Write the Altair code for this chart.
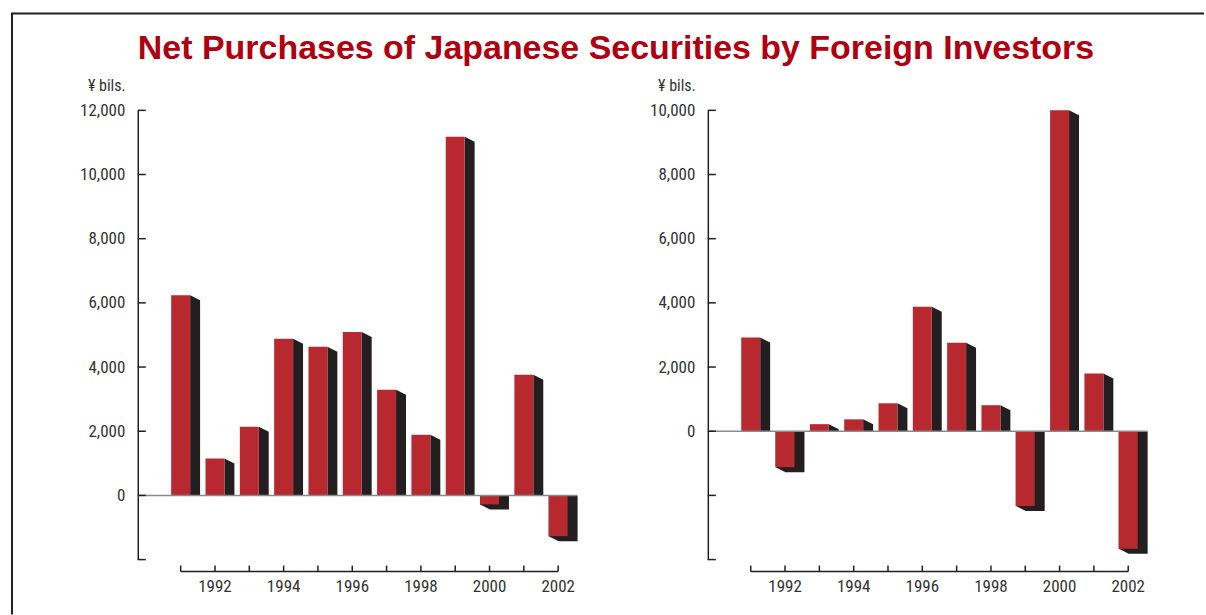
import altair as alt
import pandas as pd

years = list(range(1991, 2003))
left_values = [6240, 1150, 2140, 4880, 4630, 5090, 3290, 1890, 11180, -280, 3760, -1270]
right_values = [2920, -1120, 220, 370, 870, 3880, 2760, 810, -2330, 10000, 1800, -3660]
left_ticks = [-2000, 0, 2000, 4000, 6000, 8000, 10000, 12000]
right_ticks = [-4000, -2000, 0, 2000, 4000, 6000, 8000, 10000]
label_years = [1992, 1994, 1996, 1998, 2000, 2002]
title_text = "Net Purchases of Japanese Securities by Foreign Investors"
unit_text = "¥ bils."

W, H = 440, 450
X_DOMAIN = [1989.75, 2002.55]
HALF = 0.276      # half width of bar face, in years
SIDE = 0.29       # depth of the dark side, in years
DROP_PX = 5       # slant of the dark side, in pixels

RED = "#b8282f"
DARK = "#231f20"
TXT = "#333333"
FONT = "'Liberation Sans Narrow', 'Roboto Condensed', 'DejaVu Sans Condensed', 'Arial Narrow', Roboto, sans-serif"


def panel(values, ticks, ydomain, first):
    span = ydomain[1] - ydomain[0]
    drop = DROP_PX * span / H
    xs = alt.Scale(domain=X_DOMAIN, nice=False, zero=False)
    ys = alt.Scale(domain=ydomain, nice=False, zero=False)
    yax = alt.Axis(values=ticks, format=",d", title=None, ticks=False, grid=False,
                   domain=True, domainColor=DARK, domainWidth=1.5, labelPadding=13,
                   labelExpr="datum.value < 0 ? '' : datum.label")

    bars = pd.DataFrame({"year": years, "v": values})
    bars["x1"] = bars["year"] - HALF
    bars["x2"] = bars["year"] + HALF

    rows = []
    for yr, v in zip(years, values):
        if v >= 0:
            rows.append({"year": yr, "x": yr + HALF, "top": v, "bot": 0})
            rows.append({"year": yr, "x": yr + HALF + SIDE, "top": v - drop, "bot": 0})
        else:
            rows.append({"year": yr, "x": yr - HALF, "top": 0, "bot": v})
            rows.append({"year": yr, "x": yr - HALF + SIDE, "top": 0, "bot": v - drop})
            rows.append({"year": yr, "x": yr + HALF + SIDE, "top": 0, "bot": v - drop})
    side = pd.DataFrame(rows)

    side_layer = alt.Chart(side).mark_area(color=DARK, interpolate="linear", orient="vertical").encode(
        x=alt.X("x:Q", scale=xs, axis=None),
        y=alt.Y("top:Q", scale=ys, axis=yax, stack=None),
        y2="bot:Q",
        detail="year:N",
    )
    face_layer = alt.Chart(bars).mark_rect(color=RED).encode(
        x=alt.X("x1:Q", scale=xs, axis=None),
        x2="x2:Q",
        y=alt.Y("v:Q", scale=ys, axis=yax),
        y2=alt.datum(0),
    )
    zero_layer = alt.Chart(pd.DataFrame({"z": [0]})).mark_rule(color="#8a8a8a", strokeWidth=1.5).encode(
        y=alt.Y("z:Q", scale=ys, axis=yax),
        x=alt.value(0),
        x2=alt.value(W),
    )
    ytick_layer = alt.Chart(pd.DataFrame({"t": ticks})).mark_rule(color=DARK, strokeWidth=1.5).encode(
        y=alt.Y("t:Q", scale=ys, axis=yax),
        x=alt.value(0),
        x2=alt.value(8),
    )
    xline_layer = alt.Chart(pd.DataFrame({"a": [years[0]], "b": [years[-1]]})).mark_rule(
        color=DARK, strokeWidth=1.5).encode(
        x=alt.X("a:Q", scale=xs, axis=None),
        x2="b:Q",
        y=alt.value(H + 12),
    )
    xtick_layer = alt.Chart(pd.DataFrame({"year": years})).mark_rule(color=DARK, strokeWidth=1.5).encode(
        x=alt.X("year:Q", scale=xs, axis=None),
        y=alt.value(H + 6),
        y2=alt.value(H + 12),
    )
    xlabel_layer = alt.Chart(pd.DataFrame({"year": label_years})).mark_text(
        font=FONT, fontSize=17, color=TXT, baseline="middle", align="center").encode(
        x=alt.X("year:Q", scale=xs, axis=None),
        y=alt.value(H + 27),
        text="year:N",
    )
    unit_layer = alt.Chart(pd.DataFrame({"u": [unit_text]})).mark_text(
        font=FONT, fontSize=16, color=TXT, baseline="middle", align="right").encode(
        x=alt.value(-12),
        y=alt.value(-24),
        text="u:N",
    )
    layers = [side_layer, face_layer, zero_layer, ytick_layer, xline_layer,
              xtick_layer, xlabel_layer, unit_layer]
    if first:
        left_line = alt.Chart(pd.DataFrame({"k": ["v"]})).mark_rule(color=DARK, strokeWidth=2).encode(
            x=alt.value(-126), y=alt.value(-97), y2=alt.value(505))
        top_line = alt.Chart(pd.DataFrame({"k": ["h"]})).mark_rule(color=DARK, strokeWidth=2).encode(
            x=alt.value(-127), x2=alt.value(1068), y=alt.value(-97))
        title_layer = alt.Chart(pd.DataFrame({"t": [title_text]})).mark_text(
            font="Liberation Sans", fontWeight="bold", fontSize=34, color="#b00010",
            align="center", baseline="middle").encode(
            x=alt.value(479), y=alt.value(-61), text="t:N")
        layers = [left_line, top_line, title_layer] + layers
    return alt.layer(*layers).properties(width=W, height=H)


left = panel(left_values, left_ticks, [-2000, 12000], True)
right = panel(right_values, right_ticks, [-4000, 10000], False)

chart = alt.hconcat(left, right, spacing=131, bounds="flush").properties(
    padding={"left": 10, "top": 12, "right": 1, "bottom": 0}
).configure_view(stroke=None).configure_axis(
    labelFont=FONT, labelFontSize=17, labelColor=TXT
)

chart.save("out.html", embed_options={"renderer": "svg", "actions": False})
